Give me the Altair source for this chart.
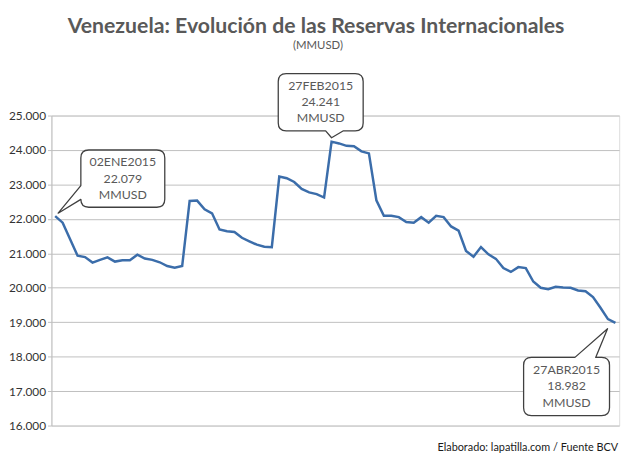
import altair as alt
import pandas as pd

# Reservas internacionales (MMUSD), 02ENE2015 .. 27ABR2015 (business days)
values = [
    22079, 21890, 21410, 20930, 20890, 20730, 20810, 20880, 20760, 20800,
    20800, 20960, 20850, 20810, 20740, 20630, 20580, 20630, 22520, 22530,
    22280, 22160, 21690, 21640, 21620, 21450, 21350, 21250, 21190, 21180,
    23230, 23180, 23070, 22870, 22770, 22720, 22620, 24241, 24190, 24120,
    24110, 23960, 23900, 22540, 22090, 22090, 22050, 21910, 21890, 22050,
    21890, 22090, 22050, 21780, 21660, 21070, 20900, 21180, 20970, 20840,
    20570, 20460, 20600, 20570, 20180, 20000, 19960, 20030, 20010, 20000,
    19920, 19900, 19730, 19420, 19090, 18982,
]
idx = list(range(len(values)))
y_ticks = [16000, 17000, 18000, 19000, 20000, 21000, 22000, 23000, 24000, 25000]

ann_idx = [0, 37, 75]
ann_date = ["02ENE2015", "27FEB2015", "27ABR2015"]
ann_label = ["22.079", "24.241", "18.982"]
ann_unit = "MMUSD"

title_text = "Venezuela: Evolución de las Reservas Internacionales"
subtitle_text = "(MMUSD)"
footer_text = "Elaborado: lapatilla.com / Fuente BCV"

W, H = 575, 314
FONT = "Lato"

df = pd.DataFrame({"i": idx, "v": values})

xs = alt.Scale(domain=[-0.5, len(values) - 0.5], nice=False, zero=False)
ys = alt.Scale(domain=[16000, 25000], nice=False, zero=False)
X = alt.X("i:Q", scale=xs, axis=None)
Y = alt.Y(
    "v:Q", scale=ys,
    axis=alt.Axis(
        values=y_ticks,
        labelExpr="replace(format(datum.value, ',.0f'), ',', '.')",
        grid=True, gridColor="#BFBFBF", gridWidth=1,
        domainColor="#BFBFBF", tickColor="#BFBFBF", tickSize=4,
        labelPadding=2, labelFont=FONT, labelFontSize=12,
        labelColor="#333333", title=None,
    ),
)

line = alt.Chart(df).mark_line(color="#3B6DAA", strokeWidth=2.5).encode(x=X, y=Y)

# callout shapes (pixel offsets relative to the anchored data point; size=4 -> 1 unit = 1 px)
shapes = [
    "M 34 -67 L 103 -67 Q 111 -67 111 -59 L 111 -17 Q 111 -9 103 -9 L 34 -9 "
    "Q 26 -9 26 -17 L 3 -3 L 26 -31 L 26 -59 Q 26 -67 34 -67 Z",
    "M -46 -69 L 24 -69 Q 32 -69 32 -61 L 32 -19 Q 32 -11 24 -11 L 12 -11 "
    "L 0 -4 L -6 -11 L -46 -11 Q -54 -11 -54 -19 L -54 -61 Q -54 -69 -46 -69 Z",
    "M -85 35 L -41 35 L -8 6 L -20 35 L -14 35 Q -6 35 -6 43 L -6 86 "
    "Q -6 94 -14 94 L -85 94 Q -93 94 -93 86 L -93 43 Q -93 35 -85 35 Z",
]
LH = 16.5
text_off = [(68.5, -38 - LH), (-11, -40 - LH), (-49.5, 64.5 - LH)]

layers = [line]
for k in range(3):
    i = ann_idx[k]
    adf = pd.DataFrame({
        "i": [i], "v": [values[i]],
        "t": [ann_date[k] + "\n" + ann_label[k] + "\n" + ann_unit],
    })
    box = alt.Chart(adf).mark_point(
        shape=shapes[k], size=4, filled=True, fill="white", stroke="#404040",
        strokeWidth=1.3, opacity=1, strokeJoin="round",
    ).encode(x=X, y=Y)
    txt = alt.Chart(adf).mark_text(
        dx=text_off[k][0], dy=text_off[k][1], align="center", baseline="middle",
        lineBreak="\n", lineHeight=LH, font=FONT, fontSize=12.5, color="#595959",
    ).encode(x=X, y=Y, text="t:N")
    layers += [box, txt]

tdf = pd.DataFrame({"t": [title_text], "s": [subtitle_text], "f": [footer_text]})
title = alt.Chart(tdf).mark_text(
    align="center", baseline="alphabetic", font=FONT, fontSize=21.5,
    fontWeight="bold", color="#595959",
).encode(x=alt.value(268), y=alt.value(-84), text="t:N")
subtitle = alt.Chart(tdf).mark_text(
    align="center", baseline="alphabetic", font=FONT, fontSize=11.5, color="#595959",
).encode(x=alt.value(270), y=alt.value(-67), text="s:N")
footer = alt.Chart(tdf).mark_text(
    align="right", baseline="alphabetic", font=FONT, fontSize=11, color="#1A1A1A",
).encode(x=alt.value(574), y=alt.value(340), text="f:N")

chart = alt.layer(*layers, title, subtitle, footer).properties(
    width=W, height=H,
    padding={"left": 44, "top": 106, "right": 13, "bottom": 33},
    autosize=alt.AutoSizeParams(type="none"),
).configure_view(stroke=None).configure(background="white")

chart.save("out.html", embed_options={"renderer": "svg", "actions": False})
